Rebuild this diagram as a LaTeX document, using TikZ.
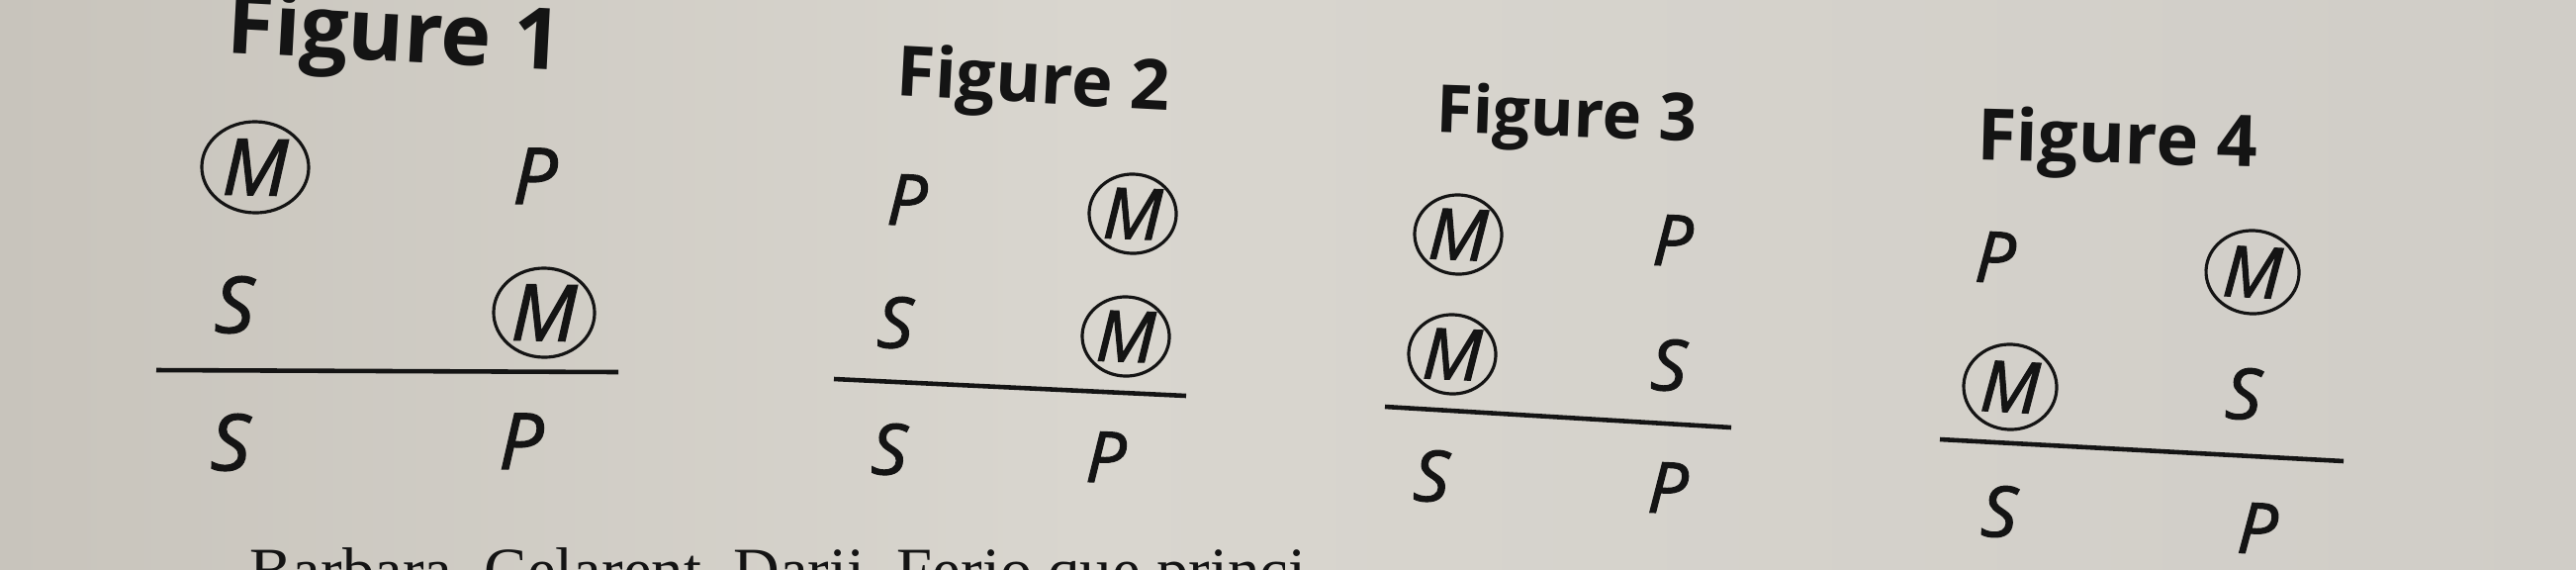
\documentclass[tikz,border=0pt]{standalone}
\usepackage{fontspec}
\setmainfont{Liberation Serif}
\newfontfamily\figfont{Open Sans}
\newfontfamily\termfont[FakeBold=1.6]{Open Sans}
\usetikzlibrary{shapes.geometric}

\definecolor{ink}{RGB}{20,20,20}
\definecolor{paperl}{RGB}{200,196,188}
\definecolor{paperm}{RGB}{217,214,207}
\definecolor{paperr}{RGB}{208,205,199}

\tikzset{
	term/.style={font=\termfont\itshape\fontsize{20.3}{24}\selectfont, text=ink, inner sep=0pt},
	bigterm/.style={term, font=\termfont\itshape\fontsize{22.5}{26}\selectfont},
	midterm/.style={term, ellipse, draw=ink, line width=0.9pt, minimum width=0.88cm, minimum height=0.8cm},
	bigmidterm/.style={midterm, font=\termfont\itshape\fontsize{22.5}{26}\selectfont, minimum width=1.08cm, minimum height=0.92cm},
	title/.style={font=\figfont\bfseries\fontsize{20}{24}\selectfont, text=ink, anchor=base, inner sep=0pt},
	rule/.style={draw=ink, line width=1.3pt},
}

\begin{document}
\begin{tikzpicture}[x=0.01cm, y=-0.01cm]
		%%%%% START %%%%%
		\useasboundingbox (0,0) rectangle (2604,575);
		\clip (0,0) rectangle (2604,575);
		\shade[left color=paperl, right color=paperm] (0,0) rectangle (1100,575);
		\shade[left color=paperm, right color=paperr] (1100,0) rectangle (2604,575);
		
		% Figure 1
		\node[title, font=\figfont\bfseries\fontsize{24.5}{28}\selectfont, rotate=-3] (t1) at (398,62) {Figure 1};
		\node[bigmidterm, rotate=-1] (m1a) at (258,169) {M};
		\node[bigterm, rotate=-1] (p1a) at (541,178) {P};
		\node[bigterm, rotate=-1] (s1b) at (237,308) {S};
		\node[bigmidterm, rotate=-1, minimum width=1.02cm, minimum height=0.9cm] (m1b) at (550,316) {M};
		\coordinate (r1w) at (158,374);
		\coordinate (r1e) at (625,376);
		\draw[rule] (r1w) -- (r1e);
		\node[bigterm, rotate=-1] (s1c) at (233,447) {S};
		\node[bigterm, rotate=-1] (p1c) at (527,446) {P};
		
		% Figure 2
		\node[title, rotate=-3] (t2) at (1044,104) {Figure 2};
		\node[term, rotate=-2] (p2a) at (917,202) {P};
		\node[midterm, rotate=-2] (m2a) at (1145,216) {M};
		\node[term, rotate=-2] (s2b) at (905,326) {S};
		\node[midterm, rotate=-2] (m2b) at (1138,340) {M};
		\coordinate (r2w) at (843,383);
		\coordinate (r2e) at (1199,400);
		\draw[rule] (r2w) -- (r2e);
		\node[term, rotate=-2] (s2c) at (899,454) {S};
		\node[term, rotate=-2] (p2c) at (1118,462) {P};
		
		% Figure 3
		\node[title, font=\figfont\bfseries\fontsize{19}{23}\selectfont, rotate=-2] (t3) at (1583,138) {Figure 3};
		\node[midterm, rotate=-2.5] (m3a) at (1474,237) {M};
		\node[term, rotate=-2.5] (p3a) at (1691,243) {P};
		\node[midterm, rotate=-2.5] (m3b) at (1468,358) {M};
		\node[term, rotate=-2.5] (s3b) at (1687,369) {S};
		\coordinate (r3w) at (1400,411);
		\coordinate (r3e) at (1750,432);
		\draw[rule] (r3w) -- (r3e);
		\node[term, rotate=-2.5] (s3c) at (1447,481) {S};
		\node[term, rotate=-2.5] (p3c) at (1686,493) {P};
		
		% Figure 4
		\node[title, font=\figfont\bfseries\fontsize{20.5}{24}\selectfont, rotate=-1.5] (t4) at (2140,165) {Figure 4};
		\node[term, rotate=-3] (p4a) at (2017,260) {P};
		\node[midterm, rotate=-3, minimum width=0.94cm, minimum height=0.84cm] (m4a) at (2277,275) {M};
		\node[midterm, rotate=-3, minimum width=0.94cm, minimum height=0.86cm] (m4b) at (2032,391) {M};
		\node[term, rotate=-3] (s4b) at (2268,398) {S};
		\coordinate (r4w) at (1961,444);
		\coordinate (r4e) at (2369,466);
		\draw[rule] (r4w) -- (r4e);
		\node[term, rotate=-3] (s4c) at (2021,517) {S};
		\node[term, rotate=-3] (p4c) at (2282,534) {P};
		
		% running text, cut off by the page edge
		\node[anchor=base west, inner sep=0pt, text=ink, font=\fontsize{18.4}{22}\selectfont] (verse) at (252,598) {Barbara, Celarent, Darii, Ferio que princi};
		
		%%%%% END %%%%%
\end{tikzpicture}
\end{document}
